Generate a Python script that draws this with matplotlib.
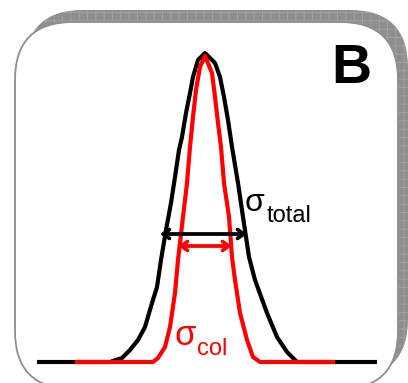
import matplotlib
matplotlib.use("Agg")
import matplotlib.pyplot as plt
from matplotlib.patches import FancyBboxPatch
import numpy as np

# ---- data (pixel-like units, y downward) ----
total_x = [37, 110, 122, 130, 138, 145, 152, 157, 161, 166, 171, 175, 179, 182,
           186, 190, 193, 198, 205, 215, 220, 224, 228, 232, 238, 243, 249, 255,
           267, 277, 287, 297, 377]
total_y = [362, 362, 358, 350, 340, 327, 303, 287, 260, 230, 203, 177, 150, 137,
           113, 93, 77, 60, 53, 63, 77, 97, 120, 147, 183, 217, 257, 280,
           313, 337, 352, 362, 362]

col_x = [75, 153, 158, 165, 170, 175, 178, 183, 187, 190, 193, 196, 200, 205,
         212, 215, 218, 221, 224, 229, 232, 235, 240, 247, 253, 260, 335]
col_y = [362, 362, 358, 347, 327, 293, 260, 217, 183, 147, 117, 90, 67, 56,
         73, 97, 123, 147, 183, 217, 257, 280, 313, 340, 357, 362, 362]

arrow_total = (160, 247, 234)   # x_start, x_end, y
arrow_col = (178, 232, 246)

plt.rcParams["hatch.linewidth"] = 0.7

fig = plt.figure(figsize=(4.08, 3.83), dpi=100)
ax = fig.add_axes([0, 0, 1, 1])
ax.set_xlim(0, 408)
ax.set_ylim(383, 0)
ax.axis("off")

# shadow box
shadow = FancyBboxPatch((25, 10), 383, 367,
                        boxstyle="round,pad=0,rounding_size=58",
                        facecolor="#8e8e8e", edgecolor="#a2a2a2",
                        linewidth=0, hatch="++", zorder=1)
ax.add_patch(shadow)
# white panel
panel = FancyBboxPatch((15, 22), 383, 367,
                       boxstyle="round,pad=0,rounding_size=58",
                       facecolor="white", edgecolor="#8e8e8e",
                       linewidth=1.3, zorder=2)
ax.add_patch(panel)

ax.plot(total_x, total_y, color="black", lw=3.0, solid_capstyle="butt",
        solid_joinstyle="round", zorder=3)
ax.plot(col_x, col_y, color="#ff0000", lw=3.0, solid_capstyle="butt",
        solid_joinstyle="round", zorder=4)

ax.annotate("", xy=(arrow_total[0], arrow_total[2]), xytext=(arrow_total[1], arrow_total[2]),
            arrowprops=dict(arrowstyle="<->,head_length=0.45,head_width=0.32",
                            color="black", lw=2.7, shrinkA=0, shrinkB=0), zorder=5)
ax.annotate("", xy=(arrow_col[0], arrow_col[2]), xytext=(arrow_col[1], arrow_col[2]),
            arrowprops=dict(arrowstyle="<->,head_length=0.45,head_width=0.32",
                            color="#ff0000", lw=2.7, shrinkA=0, shrinkB=0), zorder=6)

fam = ["Liberation Sans", "DejaVu Sans"]
ax.text(245, 211, "σ", fontsize=23, family=fam, color="black", va="baseline", ha="left", zorder=7)
ax.text(267, 222, "total", fontsize=17, family=fam, color="black", va="baseline", ha="left", zorder=7)
ax.text(174, 345, "σ", fontsize=25, family=fam, color="#ff0000", va="baseline", ha="left", zorder=7)
ax.text(197, 355, "col", fontsize=17, family=fam, color="#ff0000", va="baseline", ha="left", zorder=7)
ax.text(331, 83, "B", fontsize=40, family=fam, fontweight="bold", color="black",
        va="baseline", ha="left", zorder=7)

fig.savefig("out.png", dpi=100)
